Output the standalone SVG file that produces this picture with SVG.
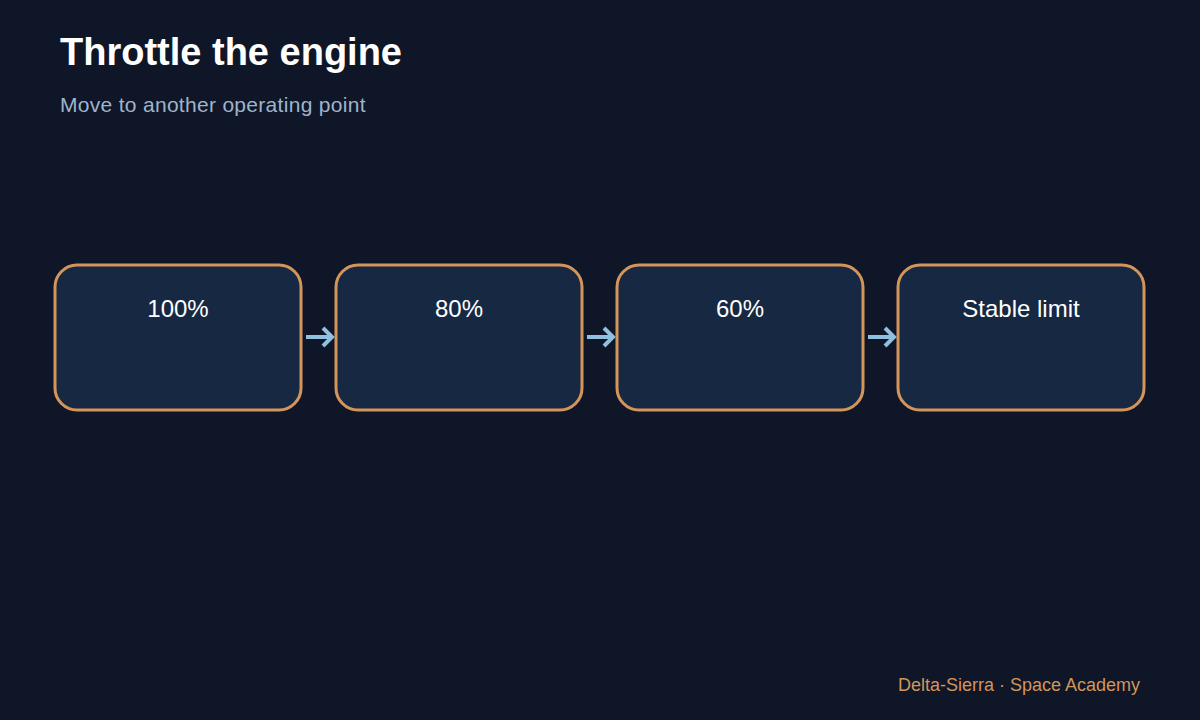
<svg xmlns="http://www.w3.org/2000/svg" width="1200" height="720" viewBox="0 0 1200 720">
<style>
.box{fill:#172842;stroke:#d4945a;stroke-width:3}
.lbl{font-family:"Liberation Sans",Arial,sans-serif;font-size:24px;fill:#ffffff;text-anchor:middle}
.con{stroke:#8fc0e0;stroke-width:4;fill:none}
</style>
<rect width="1200" height="720" fill="#0e1628"/>
<text x="60" y="65" font-family="Liberation Sans,Arial,sans-serif" font-size="38" font-weight="bold" fill="#ffffff">Throttle the engine</text>
<text x="60" y="112" font-family="Liberation Sans,Arial,sans-serif" font-size="21" fill="#9fb4cc" letter-spacing="0.3">Move to another operating point</text>
<g id="n1"><rect class="box" x="55" y="265" width="246" height="145" rx="22"/><text class="lbl" x="178" y="317">100%</text></g>
<g id="n2"><rect class="box" x="336" y="265" width="246" height="145" rx="22"/><text class="lbl" x="459" y="317">80%</text></g>
<g id="n3"><rect class="box" x="617" y="265" width="246" height="145" rx="22"/><text class="lbl" x="740" y="317">60%</text></g>
<g id="n4"><rect class="box" x="898" y="265" width="246" height="145" rx="22"/><text class="lbl" x="1021" y="317">Stable limit</text></g>
<g id="connectors">
<path class="con" d="M306 337H331M323 328L332 337L323 346"/>
<path class="con" d="M587 337H612M604 328L613 337L604 346"/>
<path class="con" d="M868 337H893M885 328L894 337L885 346"/>
</g>
<text x="1140" y="691" text-anchor="end" font-family="Liberation Sans,Arial,sans-serif" font-size="18" fill="#d4945a">Delta-Sierra · Space Academy</text>
</svg>
